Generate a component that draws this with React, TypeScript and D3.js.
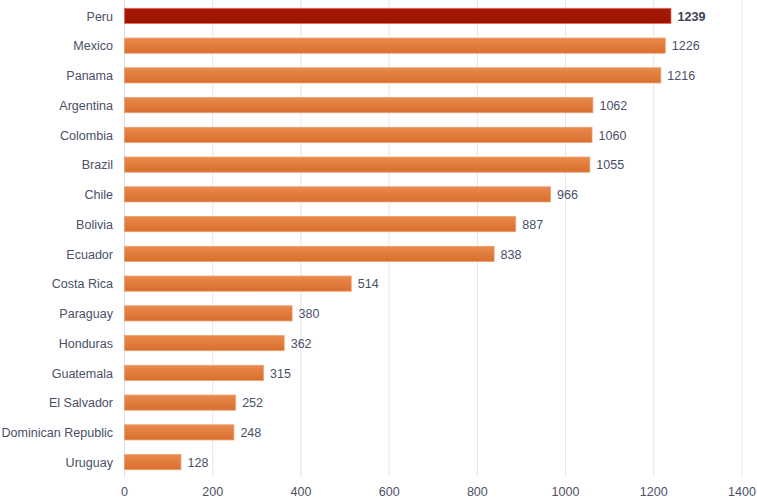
import React from "react";
import * as d3 from "d3";

const categories = ["Peru","Mexico","Panama","Argentina","Colombia","Brazil","Chile","Bolivia","Ecuador","Costa Rica","Paraguay","Honduras","Guatemala","El Salvador","Dominican Republic","Uruguay"];
const values = [1239,1226,1216,1062,1060,1055,966,887,838,514,380,362,315,252,248,128];
const xTicks = [0,200,400,600,800,1000,1200,1400];
const highlight = "Peru";

const W = 757, H = 498;
const left = 124.5, right = 742;
const top = 1, bottom = 477;

export default function App() {
  const x = d3.scaleLinear().domain([0, 1400]).range([left, right]);
  const y = d3.scaleBand().domain(categories).range([top, bottom]).paddingInner(0.49).paddingOuter(0.245);
  const bh = y.bandwidth();
  const lab = (tx: number, ty: number) => `translate(${tx},${ty}) scale(0.93,1)`;
  return (
    <svg width={W} height={H} style={{ position: "absolute", left: 0, top: 0 }} fontFamily="'Liberation Sans', Arial, sans-serif">
      <defs>
        <linearGradient id="og" x1="0" y1="0" x2="0" y2="1">
          <stop offset="0" stopColor="#e98a4d" />
          <stop offset="1" stopColor="#d96e2c" />
        </linearGradient>
        <linearGradient id="rg" x1="0" y1="0" x2="0" y2="1">
          <stop offset="0" stopColor="#a81a08" />
          <stop offset="1" stopColor="#9c1100" />
        </linearGradient>
      </defs>
      <rect width={W} height={H} fill="#fff" />
      {xTicks.map((t) => (
        <line key={t} x1={x(t)} x2={x(t)} y1={0} y2={bottom} stroke={t === 0 ? "#dcdfe8" : "#e6e6e6"} strokeWidth={1} />
      ))}
      {categories.map((c, i) => {
        const yy = y(c)!;
        const isH = c === highlight;
        return (
          <g key={c}>
            <rect x={x(0)} y={yy} width={x(values[i]) - x(0)} height={bh}
              fill={isH ? "url(#rg)" : "url(#og)"} stroke={isH ? "#e07060" : "#eea070"} strokeWidth={0.8} />
            <text transform={lab(113, yy + bh / 2)} dy="0.36em" textAnchor="end" fontSize={13.5} fill="#4a5068">{c}</text>
            <text transform={lab(x(values[i]) + 6.5, yy + bh / 2)} dy="0.36em" fontSize={13.5} fill={isH ? "#3c4258" : "#4a5068"} fontWeight={isH ? "bold" : "normal"}>{values[i]}</text>
          </g>
        );
      })}
      {xTicks.map((t) => (
        <text key={t} transform={lab(x(t), 491)} dy="0.36em" textAnchor="middle" fontSize={13.5} fill="#4a5068">{t}</text>
      ))}
    </svg>
  );
}
